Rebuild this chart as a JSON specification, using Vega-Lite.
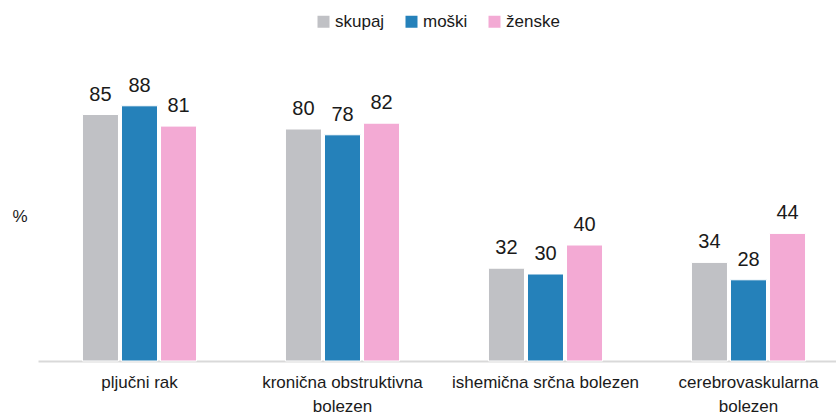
{
  "$schema": "https://vega.github.io/schema/vega-lite/v6.json",
  "width": 798,
  "height": 290,
  "autosize": {"type": "none"},
  "padding": {"left": 38, "top": 71, "right": 0, "bottom": 58},
  "background": "white",
  "config": {
    "view": {"stroke": null},
    "font": "Liberation Sans, Arial, sans-serif"
  },
  "data": {
    "values": [
      {"bolezen": "pljučni rak", "skupina": "skupaj", "vrednost": 85},
      {"bolezen": "pljučni rak", "skupina": "moški", "vrednost": 88},
      {"bolezen": "pljučni rak", "skupina": "ženske", "vrednost": 81},
      {"bolezen": "kronična obstruktivna bolezen", "skupina": "skupaj", "vrednost": 80},
      {"bolezen": "kronična obstruktivna bolezen", "skupina": "moški", "vrednost": 78},
      {"bolezen": "kronična obstruktivna bolezen", "skupina": "ženske", "vrednost": 82},
      {"bolezen": "ishemična srčna bolezen", "skupina": "skupaj", "vrednost": 32},
      {"bolezen": "ishemična srčna bolezen", "skupina": "moški", "vrednost": 30},
      {"bolezen": "ishemična srčna bolezen", "skupina": "ženske", "vrednost": 40},
      {"bolezen": "cerebrovaskularna bolezen", "skupina": "skupaj", "vrednost": 34},
      {"bolezen": "cerebrovaskularna bolezen", "skupina": "moški", "vrednost": 28},
      {"bolezen": "cerebrovaskularna bolezen", "skupina": "ženske", "vrednost": 44}
    ]
  },
  "encoding": {
    "x": {
      "field": "bolezen",
      "type": "nominal",
      "sort": null,
      "scale": {"range": [0, 812], "paddingInner": 0.438, "paddingOuter": 0.219},
      "axis": {
        "title": null,
        "labelAngle": 0,
        "labelFontSize": 17,
        "labelColor": "#1a1a1a",
        "labelPadding": 13,
        "labelLineHeight": 24,
        "labelBaseline": "top",
        "labelLimit": 0,
        "ticks": false,
        "domainColor": "#d9d9d9",
        "domainWidth": 2,
        "labelExpr": "datum.label == 'kronična obstruktivna bolezen' ? ['kronična obstruktivna', 'bolezen'] : datum.label == 'cerebrovaskularna bolezen' ? ['cerebrovaskularna', 'bolezen'] : datum.label"
      }
    },
    "xOffset": {
      "field": "skupina",
      "type": "nominal",
      "sort": ["skupaj", "moški", "ženske"],
      "scale": {"paddingInner": 0.077, "paddingOuter": 0}
    },
    "y": {
      "field": "vrednost",
      "type": "quantitative",
      "scale": {"domain": [0, 100]},
      "axis": {
        "title": "%",
        "titleAngle": 0,
        "titleFontSize": 17,
        "titleFontWeight": "normal",
        "titleColor": "#1a1a1a",
        "titleBaseline": "middle",
        "titleAlign": "right",
        "titlePadding": 11,
        "labels": false,
        "ticks": false,
        "domain": false,
        "grid": false
      }
    }
  },
  "layer": [
    {
      "mark": {"type": "bar", "stroke": "white", "strokeWidth": 1},
      "encoding": {
        "color": {
          "field": "skupina",
          "type": "nominal",
          "sort": ["skupaj", "moški", "ženske"],
          "scale": {"domain": ["skupaj", "moški", "ženske"], "range": ["#c0c1c5", "#2581ba", "#f3aad4"]},
          "legend": {
            "title": null,
            "orient": "none",
            "legendX": 277,
            "legendY": -58,
            "direction": "horizontal",
            "symbolType": "square",
            "symbolSize": 144,
            "symbolStrokeWidth": 0,
            "labelFontSize": 17,
            "labelColor": "#1a1a1a",
            "labelOffset": 3,
            "columnPadding": 18
          }
        }
      }
    },
    {
      "mark": {"type": "text", "baseline": "bottom", "dy": -10, "fontSize": 20, "color": "#1a1a1a"},
      "encoding": {
        "text": {"field": "vrednost", "type": "quantitative"}
      }
    }
  ]
}
